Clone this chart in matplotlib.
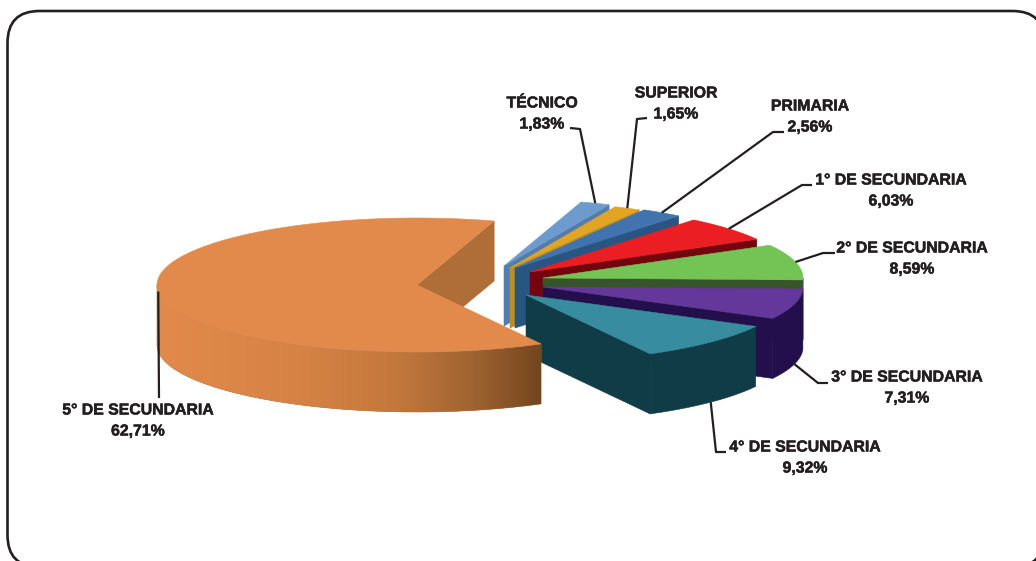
import numpy as np
import matplotlib
matplotlib.use("Agg")
import matplotlib.pyplot as plt
import matplotlib.patheffects as pe
from matplotlib.colors import LinearSegmentedColormap
from matplotlib.patches import FancyBboxPatch, Polygon

# Data, in counter-clockwise order starting at the lower edge of the big slice
categories = ["4° DE SECUNDARIA", "3° DE SECUNDARIA", "2° DE SECUNDARIA",
              "1° DE SECUNDARIA", "PRIMARIA", "SUPERIOR", "TÉCNICO", "5° DE SECUNDARIA"]
values = [9.32, 7.31, 8.59, 6.03, 2.56, 1.65, 1.83, 62.71]
value_labels = ["9,32%", "7,31%", "8,59%", "6,03%", "2,56%", "1,65%", "1,83%", "62,71%"]

top_colors = ["#378CA0", "#64379B", "#73C355", "#EB1E23", "#4173AF", "#E1A523", "#6E9BCD", "#E18A4B"]
wall_colors = ["#0F3C46", "#230F4B", "#37552A", "#73050F", "#285582", "#BE8C28", "#557DAA", "#AF6E37"]

# Layout (pixels)
W, H = 1036, 561
RX, RY, DEPTH = 260, 67, 60
START = -61.5
apexes = [(526, 295), (543, 287), (543, 278), (530, 272), (515, 268), (510, 268), (504, 266), (417, 285)]
label_pos = [(805, 447), (907, 377), (912, 248), (891, 180), (810, 106), (676, 93), (542, 103), (138, 410)]
leader_mid = [[(716, 452), (726, 452)], [(818, 383), (828, 383)], [(823, 253), (835, 253)],
              [(802, 185), (812, 185)], [(773, 132), (784, 132)], [(637, 119), (647, 118)],
              [(580, 129), (570, 128)], [(159, 398)]]
draw_order = [7, 6, 5, 4, 3, 2, 1, 8]
TEXT = "#231F20"

fig = plt.figure(figsize=(W / 100, H / 100), dpi=100, facecolor="white")
ax = fig.add_axes([0, 0, 1, 1])
ax.set_xlim(0, W)
ax.set_ylim(H, 0)
ax.axis("off")

ax.add_patch(FancyBboxPatch((7.5 + 32, 11 + 32), 1044.5 - 7.5 - 64, 567 - 11 - 64,
                            boxstyle="round,pad=32,rounding_size=32",
                            fc="white", ec="#231F20", lw=1.9, zorder=0))


def rim(apex, deg):
    t = np.radians(deg)
    return apex[0] + RX * np.cos(t), apex[1] - RY * np.sin(t)


orange_cmap = LinearSegmentedColormap.from_list(
    "wall", [(0, "#E18A4B"), (0.37, "#D78245"), (0.62, "#C3783C"), (0.82, "#A06432"), (1, "#73461E")])

angle = START
for i, (val, apex) in enumerate(zip(values, apexes)):
    a0 = angle
    a1 = angle + val * 3.6
    angle = a1
    big = val > 50
    z = draw_order[i]

    # flat cut face along the slice's lower-angle edge
    c = rim(apex, a0)
    ax.add_patch(Polygon([apex, c, (c[0], c[1] + DEPTH), (apex[0], apex[1] + DEPTH)],
                         fc=wall_colors[i], ec=wall_colors[i], lw=0.4, zorder=z))

    # outer wall: only the part that faces the viewer
    lo, hi = (max(a0, 180), a1) if big else (a0, min(a1, 0))
    if hi > lo:
        upper = np.array([rim(apex, d) for d in np.linspace(lo, hi, 120)])
        lower = upper + [0, DEPTH]
        poly = Polygon(np.vstack([upper, lower[::-1]]), fc=wall_colors[i], ec=wall_colors[i],
                       lw=0.4, zorder=z + 0.2)
        ax.add_patch(poly)
        if big:
            im = ax.imshow(np.linspace(0, 1, 256)[None, :], cmap=orange_cmap, aspect="auto",
                           extent=(upper[:, 0].min(), upper[:, 0].max(), lower[:, 1].max(), upper[:, 1].min()),
                           zorder=z + 0.4)
            im.set_clip_path(poly)

    # top face
    pts = [apex] + [rim(apex, d) for d in np.linspace(a0, a1, 240)]
    ax.add_patch(Polygon(pts, fc=top_colors[i], ec=top_colors[i], lw=0.4, zorder=z + 0.7))

    # leader line and labels
    mid = (a0 + a1) / 2
    p = rim(apex, mid)
    if np.sin(np.radians(mid)) < 0 and not big:
        p = (p[0], p[1] + DEPTH)
    xs, ys = zip(*([p] + leader_mid[i]))
    ax.plot(xs, ys, color=TEXT, lw=1.6, zorder=30, solid_joinstyle="round", solid_capstyle="butt")
    lx, ly = label_pos[i]
    for dy, s in ((0, categories[i]), (21, value_labels[i])):
        ax.text(lx, ly + dy, s, ha="center", va="center", fontsize=11.4, fontweight="bold",
                family="Liberation Sans", color=TEXT, zorder=31,
                path_effects=[pe.withStroke(linewidth=0.35, foreground=TEXT)])

ax.set_xlim(0, W)
ax.set_ylim(H, 0)
fig.savefig("out.png", dpi=100, facecolor="white")
